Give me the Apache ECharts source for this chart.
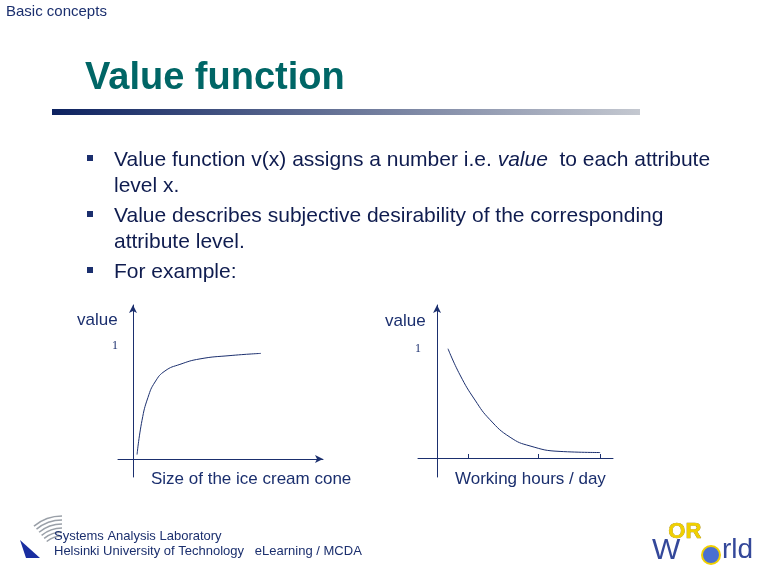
<!DOCTYPE html>
<html><head><meta charset="utf-8">
<script src="https://cdn.jsdelivr.net/npm/echarts@6/dist/echarts.min.js"></script>
<style>html,body{margin:0;padding:0;background:#fff}#c{width:768px;height:576px}</style>
</head><body><div id="c"></div>
<script>
const iceX = [0.27, 0.6, 1.0, 1.47, 2.13, 3.13, 4.47, 6.47, 8.53];
const iceV = [0.04, 0.35, 0.56, 0.70, 0.80, 0.86, 0.91, 0.94, 0.96];
const workX = [0.73, 1.53, 2.53, 3.53, 4.87, 6.2, 8.2, 10.87];
const workV = [1.0, 0.76, 0.53, 0.35, 0.19, 0.11, 0.06, 0.05];
const workTicks = [2.07, 6.73, 10.87];
const bullets = [
  ["Value function v(x) assigns a number i.e. ", "value", "  to each attribute", "level x."],
  ["Value describes subjective desirability of the corresponding", "", "", "attribute level."],
  ["For example:", "", "", ""]
];
const navy = '#1b2f6e', txt = '#0f1c4f';
const font = 'Liberation Sans, Arial, sans-serif';
const pair = (xs, ys) => xs.map((x, i) => [x, ys[i]]);

const g = [];
g.push({type:'text', left:6, top:4, style:{text:'Basic concepts', fill:navy, font:'15px '+font}});
g.push({type:'text', left:85, top:60, style:{text:'Value function', fill:'#006666', font:'bold 38px '+font}});
g.push({type:'rect', shape:{x:52, y:109, width:588, height:6},
  style:{fill:new echarts.graphic.LinearGradient(0,0,1,0,[{offset:0,color:'#0d2260'},{offset:1,color:'#c4c8d0'}])}});
const by = [150, 206, 262];
bullets.forEach((b, i) => {
  g.push({type:'rect', shape:{x:87, y:by[i]+5, width:6, height:6}, style:{fill:navy}});
  g.push({type:'text', left:114, top:by[i], style:{
    text:'{a|'+b[0]+'}'+(b[1]?'{i|'+b[1]+'}':'')+(b[2]?'{a|'+b[2]+'}':''),
    rich:{a:{fill:txt, font:'21px '+font}, i:{fill:txt, font:'italic 21px '+font}}}});
  if (b[3]) g.push({type:'text', left:114, top:by[i]+26, style:{text:b[3], fill:txt, font:'21px '+font}});
});
g.push({type:'text', left:77, top:312, style:{text:'value', fill:navy, font:'17px '+font}});
g.push({type:'text', left:385, top:313, style:{text:'value', fill:navy, font:'17px '+font}});
g.push({type:'text', left:112, top:340, style:{text:'1', fill:navy, font:'12px serif'}});
g.push({type:'text', left:415, top:343, style:{text:'1', fill:navy, font:'12px serif'}});
g.push({type:'text', left:151, top:471, style:{text:'Size of the ice cream cone', fill:navy, font:'17px '+font}});
g.push({type:'text', left:455, top:471, style:{text:'Working hours / day', fill:navy, font:'17px '+font}});
// footer
for (let k=0;k<6;k++) g.push({type:'arc', shape:{cx:62, cy:560, r:44-k*4, startAngle:-Math.PI*0.72, endAngle:-Math.PI*0.5}, style:{stroke:'#9aa0a8', lineWidth:1.5, fill:null}});
g.push({type:'polygon', shape:{points:[[20,540],[40,558],[26,558]]}, style:{fill:'#1a2ea0'}});
g.push({type:'text', left:54, top:530, style:{text:'Systems Analysis Laboratory', fill:navy, font:'13px '+font}});
g.push({type:'text', left:54, top:545, style:{text:'Helsinki University of Technology   eLearning / MCDA', fill:navy, font:'13px '+font}});
g.push({type:'text', left:668, top:521, style:{text:'OR', fill:'#f0d000', stroke:'#a08000', lineWidth:0.6, font:'bold 22px '+font}});
g.push({type:'text', left:652, top:536, style:{text:'W', fill:'#34489a', font:'30px '+font}});
g.push({type:'circle', shape:{cx:711, cy:555, r:9}, style:{fill:'#4a6fd0', stroke:'#f0d000', lineWidth:2}});
g.push({type:'text', left:722, top:536, style:{text:'rld', fill:'#34489a', font:'28px '+font}});

const axisStyle = {lineStyle:{color:navy, width:1}};
const chart = echarts.init(document.getElementById('c'));
chart.setOption({
  animation:false,
  graphic:g,
  grid:[
    {left:118, right:768-323, top:305, bottom:576-477},
    {left:418, right:768-613, top:305, bottom:576-477}
  ],
  xAxis:[
    {gridIndex:0, type:'value', min:-1, max:12.67, axisLine:{...axisStyle, onZero:true, symbol:['none','arrow'], symbolSize:[6,8]},
     axisTick:{show:false}, axisLabel:{show:false}, splitLine:{show:false}},
    {gridIndex:1, type:'value', min:-1.27, max:11.73, axisLine:{...axisStyle, onZero:true},
     axisTick:{show:true, inside:true, length:4, customValues:workTicks, lineStyle:{color:navy}}, axisLabel:{show:false}, splitLine:{show:false}}
  ],
  yAxis:[
    {gridIndex:0, type:'value', min:-0.164, max:1.4, axisLine:{...axisStyle, onZero:true, symbol:['none','arrow'], symbolSize:[6,8]},
     axisTick:{show:false}, axisLabel:{show:false}, splitLine:{show:false}},
    {gridIndex:1, type:'value', min:-0.174, max:1.4, axisLine:{...axisStyle, onZero:true, symbol:['none','arrow'], symbolSize:[6,8]},
     axisTick:{show:false}, axisLabel:{show:false}, splitLine:{show:false}}
  ],
  series:[
    {type:'line', xAxisIndex:0, yAxisIndex:0, data:pair(iceX, iceV), smooth:true, showSymbol:false, lineStyle:{color:navy, width:1}},
    {type:'line', xAxisIndex:1, yAxisIndex:1, data:pair(workX, workV), smooth:true, showSymbol:false, lineStyle:{color:navy, width:1}}
  ]
});
</script></body></html>
